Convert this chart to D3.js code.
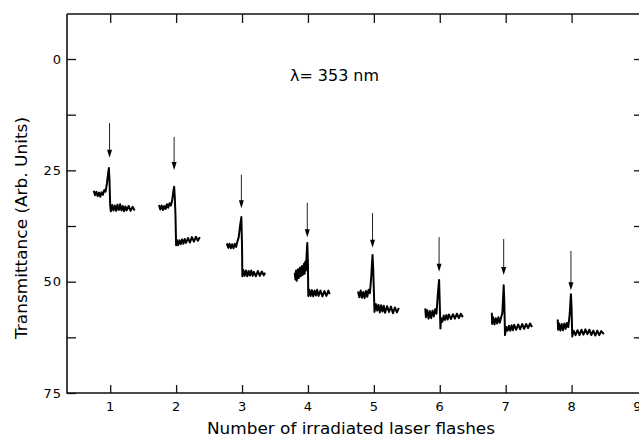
<!DOCTYPE html>
<html>
<head>
<meta charset="utf-8">
<script src="https://cdn.jsdelivr.net/npm/d3@7"></script>
<style>
  body { margin: 0; background: #fff; }
  svg { display: block; font-family: "DejaVu Sans", sans-serif; }
</style>
</head>
<body>
<script>
// DATA
// =============================================================================

const xTicks = [1, 2, 3, 4, 5, 6, 7, 8, 9];
const yMajorTicks = [0, 25, 50, 75];
const yMinorTicks = [12.5, 37.5, 62.5];

// one recorder trace per laser flash: [flash number, transmittance]
const trace1 = [[0.75,29.6],[0.77,30.6],[0.79,29.8],[0.81,30.8],[0.83,30.0],[0.85,30.9],[0.87,29.9],[0.89,30.5],[0.91,29.4],[0.93,29.8],[0.95,28.0],[0.97,25.5],[0.98,24.5],[0.99,27.5],[1.0,33.0],[1.01,34.2],[1.03,32.8],[1.05,34.0],[1.07,32.9],[1.09,34.1],[1.11,32.7],[1.13,33.9],[1.15,32.6],[1.17,34.0],[1.19,33.0],[1.21,34.2],[1.23,33.1],[1.25,34.0],[1.28,33.0],[1.31,34.1],[1.34,33.2],[1.37,34.0]];
const trace2 = [[1.74,32.8],[1.76,33.8],[1.78,32.9],[1.80,33.9],[1.82,33.0],[1.84,33.7],[1.86,32.6],[1.88,33.4],[1.90,32.4],[1.92,32.9],[1.94,31.8],[1.96,29.5],[1.97,28.7],[1.98,31.0],[1.99,35.0],[2.0,41.8],[2.01,40.6],[2.03,41.8],[2.05,40.7],[2.07,41.6],[2.09,40.5],[2.11,41.5],[2.13,40.4],[2.15,41.3],[2.18,40.2],[2.21,41.2],[2.24,40.0],[2.27,41.0],[2.30,39.9],[2.33,40.8],[2.36,40.0]];
const trace3 = [[2.77,41.4],[2.79,42.4],[2.81,41.5],[2.83,42.5],[2.85,41.6],[2.87,42.5],[2.89,41.5],[2.91,42.2],[2.93,41.0],[2.95,40.0],[2.97,37.5],[2.99,35.5],[3.0,42.0],[3.005,48.8],[3.02,47.4],[3.04,48.7],[3.06,47.5],[3.08,48.8],[3.10,47.6],[3.12,48.6],[3.14,47.5],[3.16,48.7],[3.18,47.8],[3.21,48.8],[3.24,47.6],[3.27,48.7],[3.30,47.7],[3.33,48.6],[3.35,48.0]];
const trace4 = [[3.80,48.0],[3.81,49.5],[3.82,47.5],[3.83,49.8],[3.85,47.2],[3.86,49.2],[3.88,46.8],[3.89,48.8],[3.91,46.5],[3.92,48.5],[3.94,46.0],[3.95,48.2],[3.96,45.5],[3.97,47.5],[3.98,44.0],[3.99,41.3],[4.0,46.0],[4.005,53.2],[4.02,51.8],[4.04,53.2],[4.06,51.9],[4.08,53.3],[4.10,52.0],[4.12,53.1],[4.14,51.8],[4.16,53.2],[4.19,52.0],[4.22,53.3],[4.25,52.1],[4.28,53.2],[4.31,52.0],[4.33,52.8]];
const trace5 = [[4.76,52.2],[4.78,53.5],[4.80,52.0],[4.82,53.6],[4.84,52.3],[4.86,53.7],[4.88,52.1],[4.90,53.4],[4.92,51.8],[4.94,52.6],[4.96,49.0],[4.97,46.5],[4.98,44.0],[4.99,47.0],[5.0,52.0],[5.01,56.8],[5.03,55.0],[5.05,56.5],[5.07,55.2],[5.09,56.9],[5.11,55.3],[5.13,56.7],[5.15,55.4],[5.17,57.0],[5.20,55.5],[5.23,56.8],[5.26,55.6],[5.29,57.1],[5.32,55.8],[5.35,56.9],[5.38,55.9]];
const trace6 = [[5.78,56.0],[5.79,58.0],[5.81,56.4],[5.83,58.3],[5.85,56.6],[5.87,58.2],[5.89,56.5],[5.91,57.8],[5.93,56.2],[5.95,57.2],[5.97,53.0],[5.99,49.6],[6.0,55.0],[6.01,60.5],[6.02,58.2],[6.04,59.0],[6.06,57.6],[6.08,58.6],[6.10,57.5],[6.12,58.5],[6.14,57.4],[6.17,58.4],[6.20,57.3],[6.23,58.3],[6.26,57.2],[6.29,58.2],[6.32,57.2],[6.35,58.0]];
const trace7 = [[6.79,57.0],[6.795,59.5],[6.81,58.0],[6.83,59.6],[6.85,58.2],[6.87,59.4],[6.89,58.0],[6.91,59.2],[6.93,58.1],[6.95,57.0],[6.97,50.8],[6.98,55.0],[6.99,62.0],[7.01,60.2],[7.03,61.0],[7.05,59.9],[7.07,61.0],[7.09,59.8],[7.11,60.9],[7.13,59.7],[7.16,60.8],[7.19,59.6],[7.22,60.7],[7.25,59.5],[7.28,60.6],[7.31,59.5],[7.34,60.4],[7.37,59.4],[7.40,60.2]];
const trace8 = [[7.79,58.5],[7.795,60.8],[7.81,59.4],[7.83,61.0],[7.85,59.5],[7.87,60.9],[7.89,59.4],[7.91,60.6],[7.93,59.3],[7.95,60.2],[7.97,57.5],[7.99,52.8],[8.0,56.0],[8.01,62.3],[8.03,61.0],[8.06,62.0],[8.09,60.9],[8.12,62.0],[8.15,60.8],[8.18,61.9],[8.21,60.7],[8.24,61.8],[8.27,60.8],[8.30,62.0],[8.33,61.0],[8.36,62.1],[8.39,61.0],[8.42,62.0],[8.45,61.1],[8.49,61.8]];
const traces = [trace1, trace2, trace3, trace4, trace5, trace6, trace7, trace8];

// arrows marking each flash
const arrowX   = [0.99, 1.97, 2.99, 3.99, 4.98, 5.99, 6.97, 7.99];
const arrowTop = [14.4, 17.5, 26.0, 32.3, 34.6, 40.0, 40.4, 43.1];
const arrowTip = [22.2, 24.9, 33.5, 40.0, 42.4, 47.8, 48.5, 51.9];

// CONFIG VARS
// =============================================================================

const width = 639;
const height = 437;
const plot = { left: 67, top: 14, right: 640, bottom: 393 };

// SCALES
// =============================================================================

const xScale = d3.scaleLinear()
    .domain([1, 9])
    .range([110.2, 637.5]);

const yScale = d3.scaleLinear()
    .domain([0, 75])
    .range([59, 393]);

// INITIALIZE THE SVG
// =============================================================================

const svg = d3.select("body")
    .append("svg")
    .attr("width", width)
    .attr("height", height);

// AXES
// =============================================================================

const allY = yMajorTicks.concat(yMinorTicks);

// left
svg.append("g")
    .attr("transform", `translate(${plot.left},0)`)
    .call(d3.axisRight(yScale).tickValues(allY).tickSize(9).tickFormat(""))
    .call(g => g.select(".domain").remove());

svg.selectAll(".ylab")
    .data(yMajorTicks)
    .enter()
    .append("text")
    .attr("x", 62)
    .attr("y", d => yScale(d) + 4.5)
    .attr("text-anchor", "end")
    .attr("font-size", 13)
    .attr("letter-spacing", 1)
    .text(d => d);

// right (ticks only, frame edge is off the picture)
svg.append("g")
    .attr("transform", `translate(${plot.right},0)`)
    .call(d3.axisLeft(yScale).tickValues([0, 12.5, 25, 37.5, 50, 62.5]).tickSize(6).tickFormat(""))
    .call(g => g.select(".domain").remove());

// bottom
svg.append("g")
    .attr("transform", `translate(0,${plot.bottom})`)
    .call(d3.axisTop(xScale).tickValues(xTicks.slice(0, 8)).tickSize(8).tickFormat(""))
    .call(g => g.select(".domain").remove());

svg.selectAll(".xlab")
    .data(xTicks)
    .enter()
    .append("text")
    .attr("x", d => xScale(d))
    .attr("y", 411)
    .attr("text-anchor", "middle")
    .attr("font-size", 13)
    .text(d => d);

// top
svg.append("g")
    .attr("transform", `translate(0,${plot.top})`)
    .call(d3.axisBottom(xScale).tickValues(xTicks.slice(0, 8)).tickSize(9).tickFormat(""))
    .call(g => g.select(".domain").remove());

svg.selectAll(".tick line")
    .attr("stroke", "#111")
    .attr("stroke-width", 1.3);

// frame lines
const frame = d3.line();
svg.append("path")
    .attr("d", frame([[plot.left, plot.top], [plot.left, plot.bottom], [plot.right, plot.bottom]]))
    .attr("fill", "none")
    .attr("stroke", "#111")
    .attr("stroke-width", 1.6);
svg.append("path")
    .attr("d", frame([[plot.left, plot.top], [plot.right, plot.top]]))
    .attr("fill", "none")
    .attr("stroke", "#111")
    .attr("stroke-width", 1.6);

// TRACES
// =============================================================================

const line = d3.line()
    .x(d => xScale(d[0]))
    .y(d => yScale(d[1]));

svg.selectAll(".trace")
    .data(traces)
    .enter()
    .append("path")
    .attr("class", "trace")
    .attr("d", line)
    .attr("fill", "none")
    .attr("stroke", "#000")
    .attr("stroke-width", 2)
    .attr("stroke-linejoin", "round");

// ARROWS
// =============================================================================

arrowX.forEach((x, i) => {
    const px = xScale(x);
    const tip = yScale(arrowTip[i]);
    svg.append("line")
        .attr("x1", px).attr("x2", px)
        .attr("y1", yScale(arrowTop[i]))
        .attr("y2", tip - 4)
        .attr("stroke", "#222")
        .attr("stroke-width", 1);
    svg.append("path")
        .attr("d", `M${px - 2.5},${tip - 8} L${px + 2.5},${tip - 8} L${px},${tip} Z`)
        .attr("fill", "#000");
});

// LABELS
// =============================================================================

svg.append("text")
    .attr("x", 351)
    .attr("y", 434)
    .attr("text-anchor", "middle")
    .attr("font-size", 16)
    .attr("textLength", 288)
    .attr("lengthAdjust", "spacingAndGlyphs")
    .text("Number of irradiated laser flashes");

svg.append("text")
    .attr("transform", "translate(27,228) rotate(-90)")
    .attr("text-anchor", "middle")
    .attr("font-size", 16)
    .attr("textLength", 222)
    .attr("lengthAdjust", "spacingAndGlyphs")
    .text("Transmittance (Arb. Units)");

svg.append("text")
    .attr("x", 290)
    .attr("y", 81)
    .attr("font-size", 15)
    .attr("textLength", 89)
    .attr("lengthAdjust", "spacingAndGlyphs")
    .text("λ= 353 nm");
</script>
</body>
</html>
